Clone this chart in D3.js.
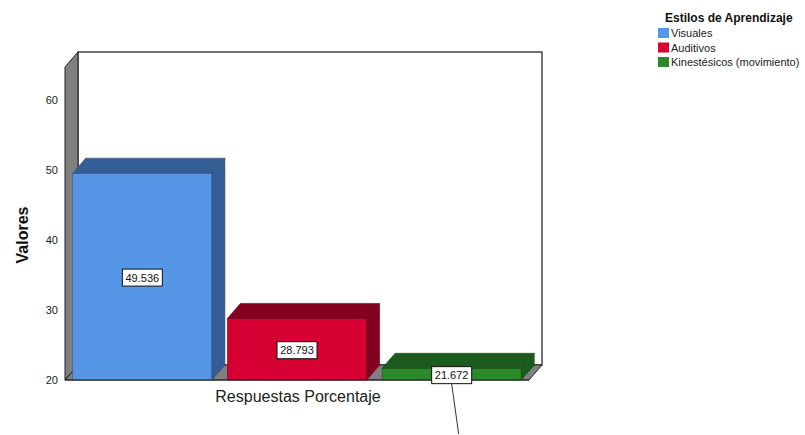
<!DOCTYPE html>
<html>
<head>
<meta charset="utf-8">
<script src="https://cdn.jsdelivr.net/npm/d3@7"></script>
<style>
  html, body { margin: 0; padding: 0; background: #fff; }
  svg { display: block; font-family: "Liberation Sans", Arial, sans-serif; }
</style>
</head>
<body>
<svg id="chart" width="805" height="435"></svg>
<script>
// ---- data ----
const category = "Respuestas Porcentaje";
const seriesNames = ["Visuales", "Auditivos", "Kinestésicos (movimiento)"];
const seriesValues = [49.536, 28.793, 21.672];
const seriesLabels = ["49.536", "28.793", "21.672"];
const yTicks = [20, 30, 40, 50, 60];
const legendTitle = "Estilos de Aprendizaje";
const yTitle = "Valores";

// colours (front, darker top/side)
const frontColors = ["#5596e6", "#d70032", "#2a8a2a"];
const sideColors  = ["#355e96", "#82001e", "#1d5a1d"];

// ---- layout ----
const svg = d3.select("#chart");
const dx = 13, dy = -15;           // 3D depth offset
const y = d3.scaleLinear().domain([20, 64.7]).range([380, 67]);
const x = d3.scaleBand().domain(seriesNames).range([65, 529])
  .paddingInner(0.1).paddingOuter(0.05);

const x0 = x.range()[0], x1 = x.range()[1];
const yB = y(20), yT = y(y.domain()[1]);

const pts = a => a.map(p => p.join(",")).join(" ");

// back wall
svg.append("polygon")
  .attr("points", pts([[x0+dx, yT+dy], [x1+dx, yT+dy], [x1+dx, yB+dy], [x0+dx, yB+dy]]))
  .attr("fill", "#fff").attr("stroke", "#444").attr("stroke-width", 1.5);

// left wall
svg.append("polygon")
  .attr("points", pts([[x0, yT], [x0+dx, yT+dy], [x0+dx, yB+dy], [x0, yB]]))
  .attr("fill", "#808080").attr("stroke", "#222").attr("stroke-width", 1);

// floor
svg.append("polygon")
  .attr("points", pts([[x0, yB], [x0+dx, yB+dy], [x1+dx, yB+dy], [x1, yB]]))
  .attr("fill", "#808080").attr("stroke", "#222").attr("stroke-width", 1);

// bars
const bars = svg.append("g");
seriesNames.forEach((name, i) => {
  const bx = x(name), bw = x.bandwidth();
  const top = y(seriesValues[i]);
  const g = bars.append("g");
  // front
  g.append("rect").attr("x", bx).attr("y", top).attr("width", bw).attr("height", yB - top)
    .attr("fill", frontColors[i]).attr("stroke", sideColors[i]).attr("stroke-width", 0.6);
  // top
  g.append("polygon")
    .attr("points", pts([[bx, top], [bx+dx, top+dy], [bx+bw+dx, top+dy], [bx+bw, top]]))
    .attr("fill", sideColors[i]).attr("stroke", d3.color(sideColors[i]).darker(0.6)).attr("stroke-width", 0.6);
  // side
  g.append("polygon")
    .attr("points", pts([[bx+bw, top], [bx+bw+dx, top+dy], [bx+bw+dx, yB+dy], [bx+bw, yB]]))
    .attr("fill", sideColors[i]).attr("stroke", d3.color(sideColors[i]).darker(0.6)).attr("stroke-width", 0.6);
});

// front baseline
svg.append("line").attr("x1", x0).attr("x2", x1).attr("y1", yB).attr("y2", yB)
  .attr("stroke", "#222").attr("stroke-width", 1);

// y axis ticks labels
const yAxis = d3.axisLeft(y).tickValues(yTicks).tickSize(0).tickPadding(7);
const ya = svg.append("g").attr("transform", `translate(${x0},0)`).call(yAxis);
ya.select(".domain").remove();
ya.selectAll("text").attr("font-size", 11).attr("fill", "#222")
  .attr("font-family", "'Liberation Sans', Arial, sans-serif");

// y title
svg.append("text").attr("transform", `translate(28,${235}) rotate(-90)`)
  .attr("text-anchor", "middle").attr("font-size", 16).attr("font-weight", "bold")
  .attr("fill", "#111").text(yTitle);

// x title
svg.append("text").attr("x", (x0 + x1) / 2 + 1).attr("y", 402)
  .attr("text-anchor", "middle").attr("font-size", 16).attr("fill", "#222").text(category);

// value labels
seriesNames.forEach((name, i) => {
  const cx = x(name) + x.bandwidth() / 2;
  const top = y(seriesValues[i]);
  const cy = (top + yB) / 2 + 1;
  const w = 40, h = 17;
  if (i === 2) {
    svg.append("line").attr("x1", cx).attr("y1", cy + h/2).attr("x2", cx + 7).attr("y2", 434)
      .attr("stroke", "#333").attr("stroke-width", 1);
  }
  svg.append("rect").attr("x", cx - w/2).attr("y", cy - h/2).attr("width", w).attr("height", h)
    .attr("fill", "#fff").attr("stroke", "#111").attr("stroke-width", 1);
  svg.append("text").attr("x", cx).attr("y", cy + 4).attr("text-anchor", "middle")
    .attr("font-size", 11).attr("fill", "#111").text(seriesLabels[i]);
});

// legend
const lg = svg.append("g");
lg.append("text").attr("x", 665).attr("y", 22).attr("font-size", 12).attr("font-weight", "bold")
  .attr("fill", "#111").text(legendTitle);
seriesNames.forEach((name, i) => {
  const yy = 33 + i * 14.5;
  lg.append("rect").attr("x", 658).attr("y", yy - 5).attr("width", 11).attr("height", 10)
    .attr("fill", frontColors[i]);
  lg.append("text").attr("x", 671).attr("y", yy + 4).attr("font-size", 11).attr("fill", "#222").text(name);
});
</script>
</body>
</html>
